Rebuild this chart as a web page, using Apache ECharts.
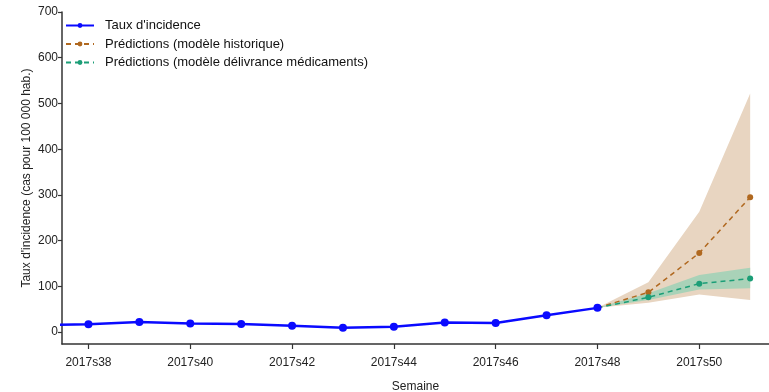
<!DOCTYPE html>
<html>
<head>
<meta charset="utf-8">
<script src="https://cdn.jsdelivr.net/npm/echarts@6/dist/echarts.min.js"></script>
<style>
  html, body { margin: 0; padding: 0; background: #fff; }
  #chart { width: 769px; height: 392px; }
</style>
</head>
<body>
<div id="chart"></div>
<script>
// Weekly incidence, 2017 weeks 37–48 (observed)
const weeks = [37, 38, 39, 40, 41, 42, 43, 44, 45, 46, 47, 48];
const incidence = [15, 17, 22, 19, 18, 14, 9.5, 11.5, 21, 20, 37, 53];

// Forecast weeks (starting from the last observed week)
const predWeeks = [48, 49, 50, 51];

// Historical model: point forecast and interval
const histPred = [53, 87, 173, 295];
const histLow = [53, 64, 82, 70];
const histHigh = [53, 109, 263, 522];

// Drug-dispensing model: point forecast and interval
const medPred = [53, 76, 106, 117];
const medLow = [53, 70, 93, 96];
const medHigh = [53, 85, 125, 141];

// Tick labels on both axes
const tickWeeks = [38, 40, 42, 44, 46, 48, 50];
const tickRates = [0, 100, 200, 300, 400, 500, 600, 700];

const Y_TITLE = "Taux d'incidence (cas pour 100 000 hab.)";

const BLUE = '#0a0aff';
const BROWN = '#b0681f';
const GREEN = '#1b9e77';
const FONT = 'Liberation Sans';

const pairs = (xs, ys) => xs.map((x, i) => [x, ys[i]]);

// Interval band: one polygon from the upper bound, back along the lower bound
function band(name, low, high, color) {
  return {
    type: 'custom', name: name, silent: true, z: 1,
    data: [[predWeeks[0], low[0]]],
    renderItem: (params, api) => {
      const upper = predWeeks.map((w, i) => api.coord([w, high[i]]));
      const lower = predWeeks.map((w, i) => api.coord([w, low[i]])).reverse();
      return {
        type: 'polygon',
        shape: { points: upper.concat(lower) },
        style: { fill: color, stroke: null }
      };
    }
  };
}

const chart = echarts.init(document.getElementById('chart'), null, { renderer: 'canvas' });

chart.setOption({
  animation: false,
  textStyle: { fontFamily: FONT },
  grid: { left: 62, right: 0, top: 12, bottom: 48, containLabel: false, outerBoundsMode: 'none' },
  graphic: [{
    type: 'text', x: 27, y: 178, rotation: Math.PI / 2, silent: true,
    style: { text: Y_TITLE, fontFamily: FONT, fontSize: 12, fill: '#222', align: 'center', verticalAlign: 'middle' }
  }],
  legend: {
    orient: 'vertical', left: 60, top: 14,
    itemWidth: 28, itemHeight: 6, itemGap: 5.5,
    textStyle: { fontFamily: FONT, fontSize: 13, color: '#111', padding: [0, 0, 0, 6] },
    data: ["Taux d'incidence", 'Prédictions (modèle historique)', 'Prédictions (modèle délivrance médicaments)']
  },
  xAxis: {
    type: 'value', min: 37.48, max: 51.37,
    name: 'Semaine', nameLocation: 'middle', nameGap: 37,
    nameTextStyle: { fontFamily: FONT, fontSize: 12, color: '#222' },
    axisLine: { show: true, onZero: false, lineStyle: { color: '#333', width: 1.5 } },
    axisTick: { show: true, length: 5, customValues: tickWeeks, lineStyle: { color: '#333', width: 1.2 } },
    axisLabel: {
      customValues: tickWeeks, margin: 13,
      fontFamily: FONT, fontSize: 12, color: '#222',
      formatter: v => '2017s' + v
    },
    splitLine: { show: false }
  },
  yAxis: {
    type: 'value', min: -26, max: 700,
    axisLine: { show: true, lineStyle: { color: '#333', width: 1.5 } },
    axisTick: { show: true, length: 4, customValues: tickRates, lineStyle: { color: '#333', width: 1.2 } },
    axisLabel: {
      customValues: tickRates, margin: 4,
      fontFamily: FONT, fontSize: 12, color: '#222'
    },
    splitLine: { show: false }
  },
  series: [
    band('hist-band', histLow, histHigh, '#e8d5c1'),
    band('med-band', medLow, medHigh, '#a9d2b8'),
    {
      name: 'Prédictions (modèle historique)', type: 'line',
      data: pairs(predWeeks, histPred),
      symbol: 'circle', symbolSize: 6, showSymbol: true,
      lineStyle: { color: BROWN, width: 1.5, type: [5, 4] },
      itemStyle: { color: BROWN }, z: 3
    },
    {
      name: 'Prédictions (modèle délivrance médicaments)', type: 'line',
      data: pairs(predWeeks, medPred),
      symbol: 'circle', symbolSize: 6, showSymbol: true,
      lineStyle: { color: GREEN, width: 1.5, type: [5, 4] },
      itemStyle: { color: GREEN }, z: 3
    },
    {
      name: "Taux d'incidence", type: 'line',
      data: pairs(weeks, incidence),
      symbol: 'circle', symbolSize: 8, showSymbol: true,
      lineStyle: { color: BLUE, width: 2.5 },
      itemStyle: { color: BLUE }, z: 4
    }
  ]
});
</script>
</body>
</html>
